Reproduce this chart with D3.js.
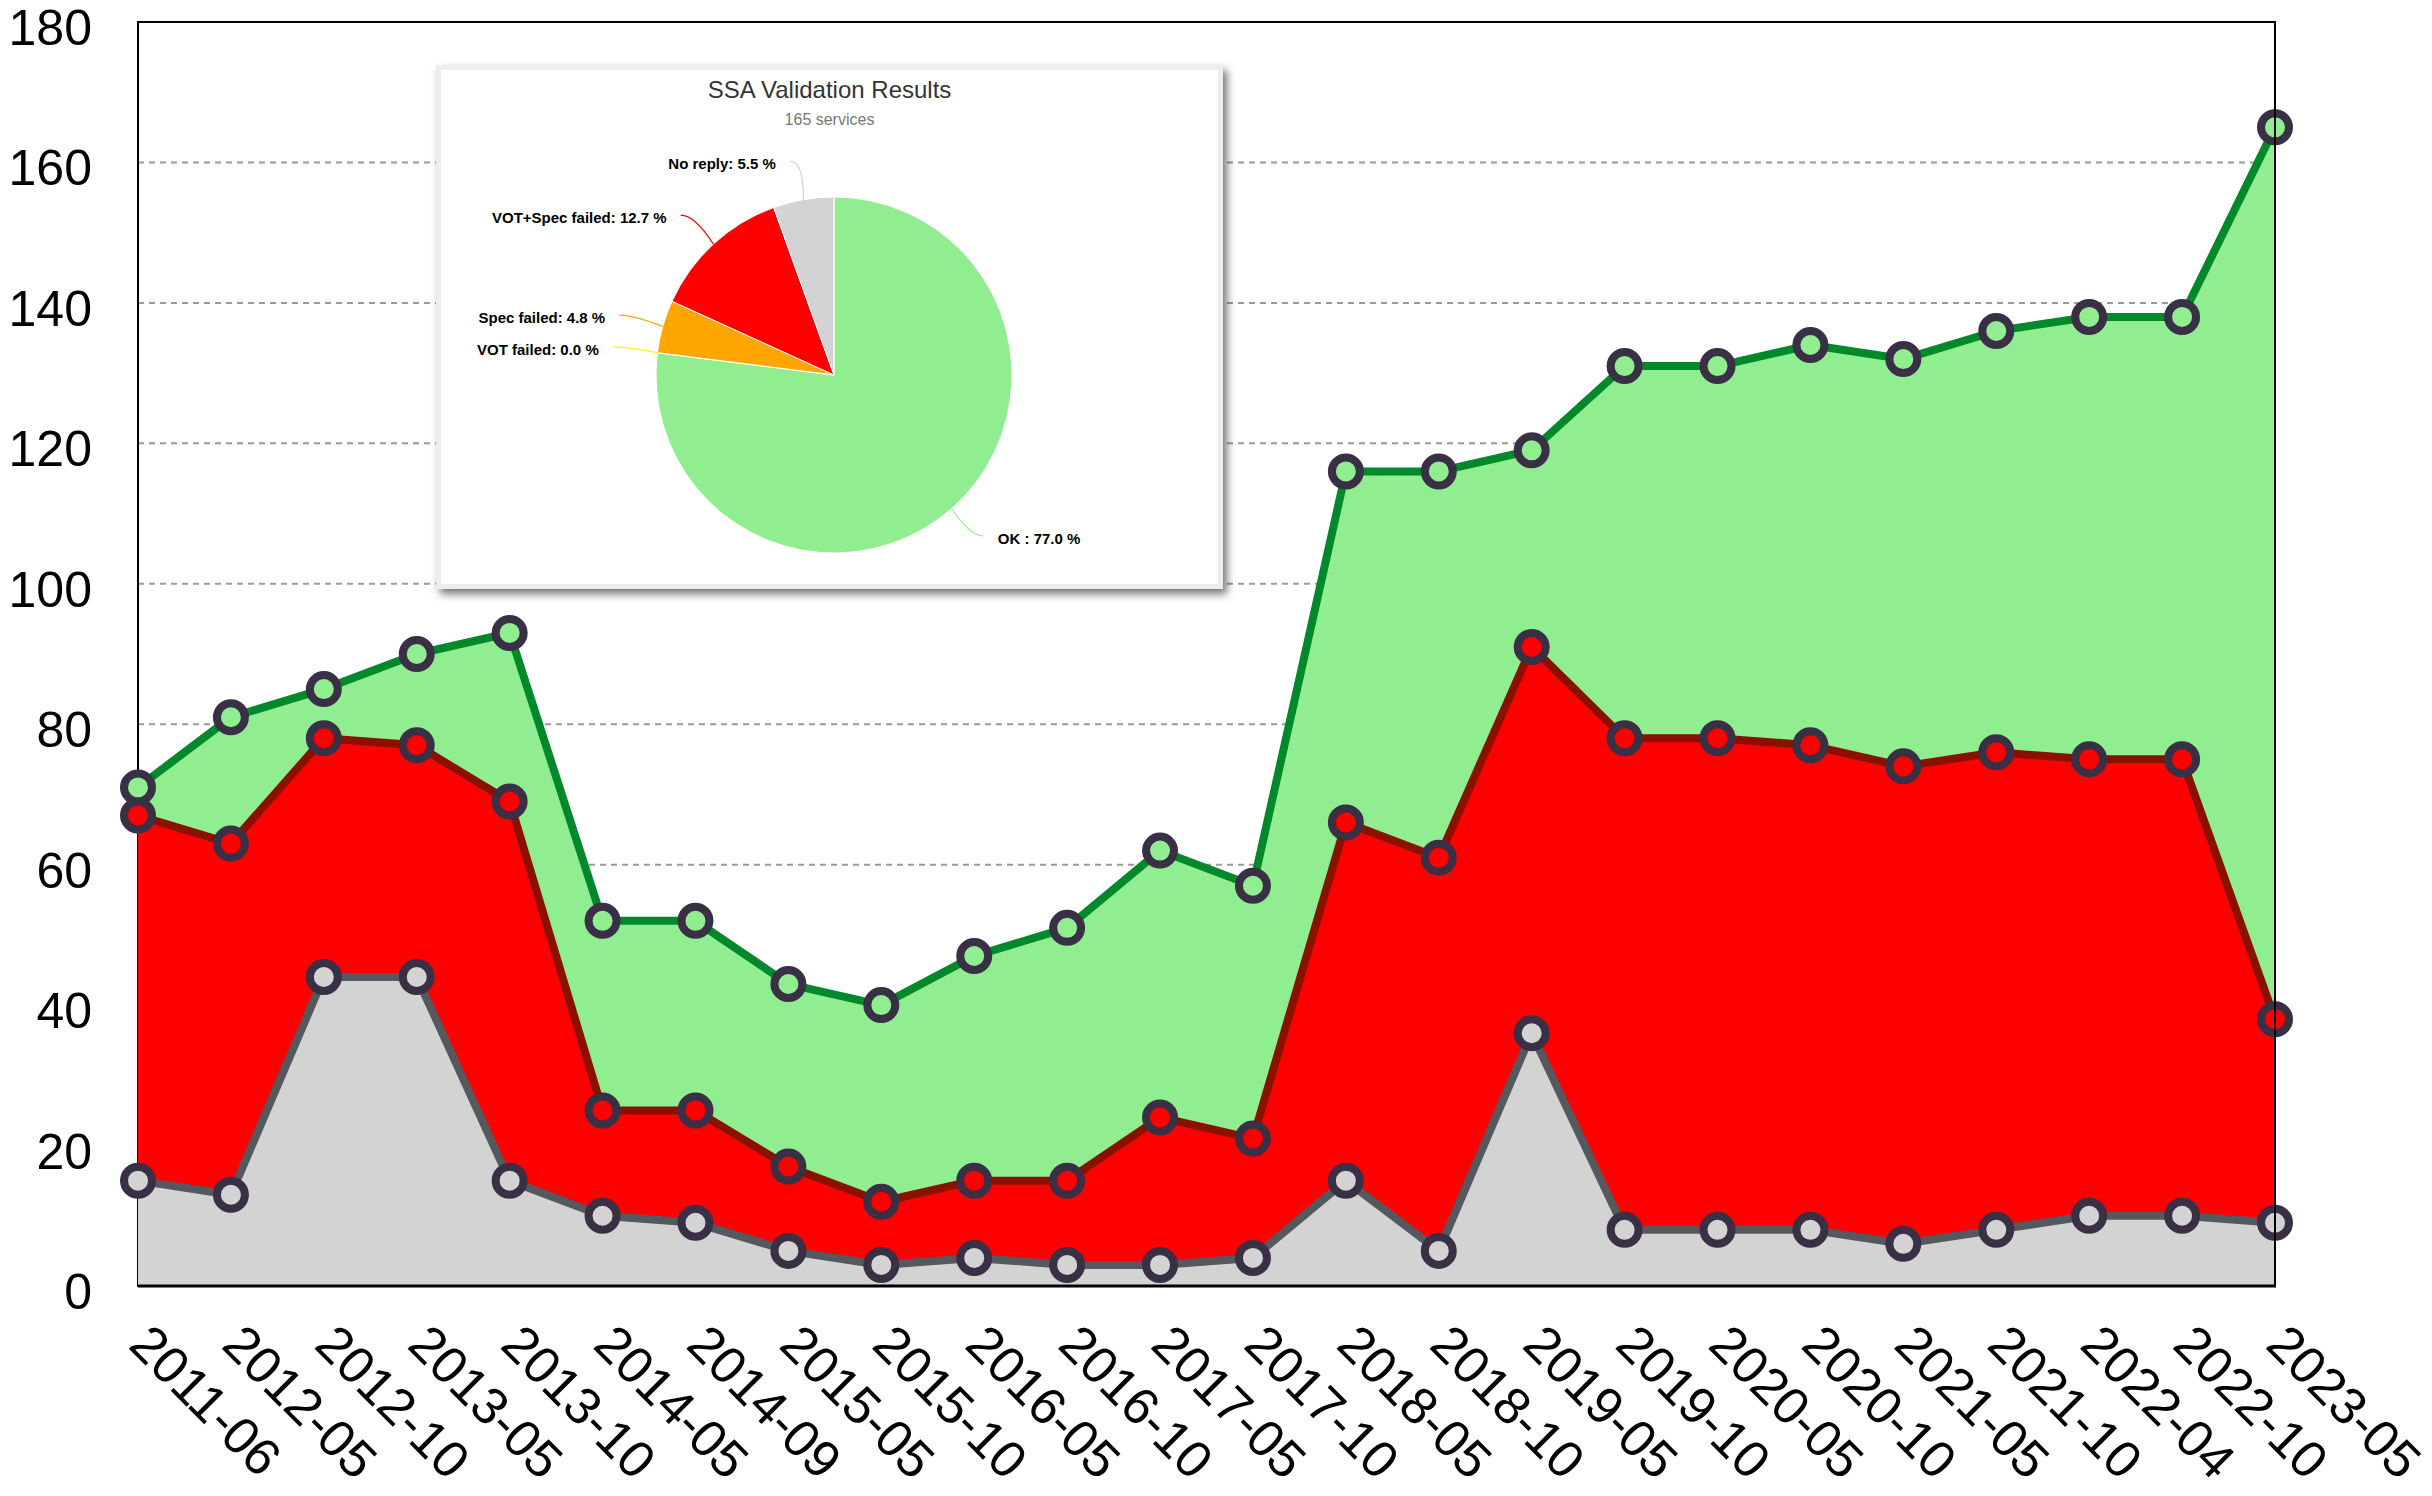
<!DOCTYPE html>
<html>
<head>
<meta charset="utf-8">
<script src="https://cdn.jsdelivr.net/npm/d3@7"></script>
<style>
  html, body { margin: 0; padding: 0; background: #fff; }
  svg { display: block; }
</style>
</head>
<body>
<svg id="chart"></svg>
<script>
const CATEGORIES = ["2011-06","2012-05","2012-10","2013-05","2013-10","2014-05","2014-09",
  "2015-05","2015-10","2016-05","2016-10","2017-05","2017-10","2018-05","2018-10",
  "2019-05","2019-10","2020-05","2020-10","2021-05","2021-10","2022-04","2022-10","2023-05"];

// services tested (top of green area)
const TOTAL    = [71, 81, 85, 90, 93, 52, 52, 43, 40, 47, 51, 62, 57, 116, 116, 119, 131, 131, 134, 132, 136, 138, 138, 165];
// no reply + failed validation (top of red area)
const FAILED   = [67, 63, 78, 77, 69, 25, 25, 17, 12, 15, 15, 24, 21, 66, 61, 91, 78, 78, 77, 74, 76, 75, 75, 38];
// no reply (grey area)
const NO_REPLY = [15, 13, 44, 44, 15, 10, 9, 5, 3, 4, 3, 3, 4, 15, 5, 36, 8, 8, 8, 6, 8, 10, 10, 9];

const Y_TICKS = [0, 20, 40, 60, 80, 100, 120, 140, 160, 180];

// inset pie (latest run)
const PIE_TITLE = "SSA Validation Results";
const PIE_SUBTITLE = "165 services";
const PIE_NAMES = ["OK ", "VOT failed", "Spec failed", "VOT+Spec failed", "No reply"];
const PIE_PCT = [77.0, 0.0, 4.8, 12.7, 5.5];
const PIE_COLORS = ["#90ee90", "#ffff00", "#ffa500", "#ff0000", "#d3d3d3"];

const W = 2432, H = 1496;
const PL = 138, PR = 2275, PT = 22, PB = 1286;

const svg = d3.select("#chart").attr("width", W).attr("height", H);

const x = d3.scalePoint().domain(CATEGORIES).range([PL, PR]);
const y = d3.scaleLinear().domain([0, 180]).range([PB, PT]);

const series = [
  { values: TOTAL,    fill: "#90ee90", line: "#00892b" },
  { values: FAILED,   fill: "#ff0000", line: "#8a1000" },
  { values: NO_REPLY, fill: "#d3d3d3", line: "#54595f" },
];

// grid
const gGrid = svg.append("g");
gGrid.selectAll("line").data(Y_TICKS.filter(t => t > 0 && t < 180)).join("line")
  .attr("x1", PL).attr("x2", PR)
  .attr("y1", d => y(d)).attr("y2", d => y(d))
  .attr("stroke", "#9a9a9a").attr("stroke-width", 2)
  .attr("stroke-dasharray", "6,5");

svg.append("rect")
  .attr("x", PL).attr("y", PT).attr("width", PR - PL).attr("height", PB - PT)
  .attr("fill", "none").attr("stroke", "#000").attr("stroke-width", 2);

const area = d3.area()
  .x((d, i) => x(CATEGORIES[i]))
  .y0(y(0))
  .y1(d => y(d));
const line = d3.line()
  .x((d, i) => x(CATEGORIES[i]))
  .y(d => y(d));

series.forEach(s => {
  const g = svg.append("g");
  g.append("path").attr("d", area(s.values)).attr("fill", s.fill);
  g.append("path").attr("d", line(s.values))
    .attr("fill", "none").attr("stroke", s.line)
    .attr("stroke-width", 8).attr("stroke-linejoin", "round");
  g.selectAll("circle").data(s.values).join("circle")
    .attr("cx", (d, i) => x(CATEGORIES[i]))
    .attr("cy", d => y(d))
    .attr("r", 14)
    .attr("fill", s.fill)
    .attr("stroke", "#3a3045")
    .attr("stroke-width", 8);
});

// right + bottom frame sit on top of the areas
svg.append("line").attr("x1", PR).attr("x2", PR).attr("y1", PT).attr("y2", PB)
  .attr("stroke", "#000").attr("stroke-width", 2);
svg.append("line").attr("x1", PL).attr("x2", PR + 1).attr("y1", PB).attr("y2", PB)
  .attr("stroke", "#000").attr("stroke-width", 3);

// y labels
svg.append("g").selectAll("text").data(Y_TICKS).join("text")
  .attr("x", 92).attr("y", d => y(d) + 23)
  .attr("text-anchor", "end")
  .attr("font-family", "Liberation Sans, Arial, sans-serif")
  .attr("font-size", 50)
  .attr("fill", "#000")
  .text(d => d);

// x labels
svg.append("g").selectAll("text").data(CATEGORIES).join("text")
  .attr("transform", d => "translate(" + (x(d) - 11) + "," + 1347 + ") rotate(45)")
  .attr("font-family", "Liberation Sans, Arial, sans-serif")
  .attr("font-size", 52)
  .attr("fill", "#000")
  .text(d => d);


// ---- inset: pie chart screenshot ----
const IX = 436, IY = 65, IW = 787, IH = 524;
const defs = svg.append("defs");
const f = defs.append("filter").attr("id", "shadow")
  .attr("x", "-5%").attr("y", "-5%").attr("width", "115%").attr("height", "115%");
f.append("feDropShadow").attr("dx", 4).attr("dy", 5).attr("stdDeviation", 4)
  .attr("flood-color", "#000").attr("flood-opacity", 0.55);

const inset = svg.append("g");
inset.append("rect").attr("x", IX).attr("y", IY).attr("width", IW).attr("height", IH)
  .attr("fill", "#eaeeec").attr("filter", "url(#shadow)");
inset.append("rect").attr("x", IX + 5).attr("y", IY + 5).attr("width", IW - 10).attr("height", IH - 10)
  .attr("fill", "#fff");

inset.append("text")
  .attr("x", IX + IW / 2).attr("y", 98)
  .attr("text-anchor", "middle")
  .attr("font-family", "Liberation Sans, Arial, sans-serif")
  .attr("font-size", 24).attr("fill", "#333")
  .text(PIE_TITLE);
inset.append("text")
  .attr("x", IX + IW / 2).attr("y", 125)
  .attr("text-anchor", "middle")
  .attr("font-family", "Liberation Sans, Arial, sans-serif")
  .attr("font-size", 16).attr("fill", "#777")
  .text(PIE_SUBTITLE);

const cx = 834, cy = 375, R = 178;
const pie = d3.pie().sort(null).value(d => d);
const arcs = pie(PIE_PCT);
const arcGen = d3.arc().innerRadius(0).outerRadius(R);

const gPie = inset.append("g").attr("transform", "translate(" + cx + "," + cy + ")");
gPie.selectAll("path").data(arcs).join("path")
  .attr("d", arcGen)
  .attr("fill", (d, i) => PIE_COLORS[i])
  .attr("stroke", "#fff").attr("stroke-width", 1);

// data labels with connectors
const LD = 38;
arcs.forEach((a, i) => {
  const mid = (a.startAngle + a.endAngle) / 2;
  const px = Math.sin(mid) * R, py = -Math.cos(mid) * R;
  const ly = -Math.cos(mid) * (R + LD);
  const side = Math.sin(mid) < 0 ? -1 : 1;
  const lx = side * Math.sqrt((R + LD) * (R + LD) - ly * ly);
  const sx = lx + side * 7;
  gPie.append("path")
    .attr("d", "M" + sx + "," + (ly - 1) + "Q" + (sx - side * 14) + "," + (ly - 1) + " " + px + "," + py)
    .attr("fill", "none").attr("stroke", PIE_COLORS[i]).attr("stroke-width", 1.2);
  gPie.append("text")
    .attr("x", lx + side * 21).attr("y", ly + 7)
    .attr("text-anchor", side < 0 ? "end" : "start")
    .attr("font-family", "Liberation Sans, Arial, sans-serif")
    .attr("font-weight", "bold").attr("font-size", 15).attr("fill", "#000")
    .text(PIE_NAMES[i] + ": " + PIE_PCT[i].toFixed(1) + " %");
});
</script>
</body>
</html>
